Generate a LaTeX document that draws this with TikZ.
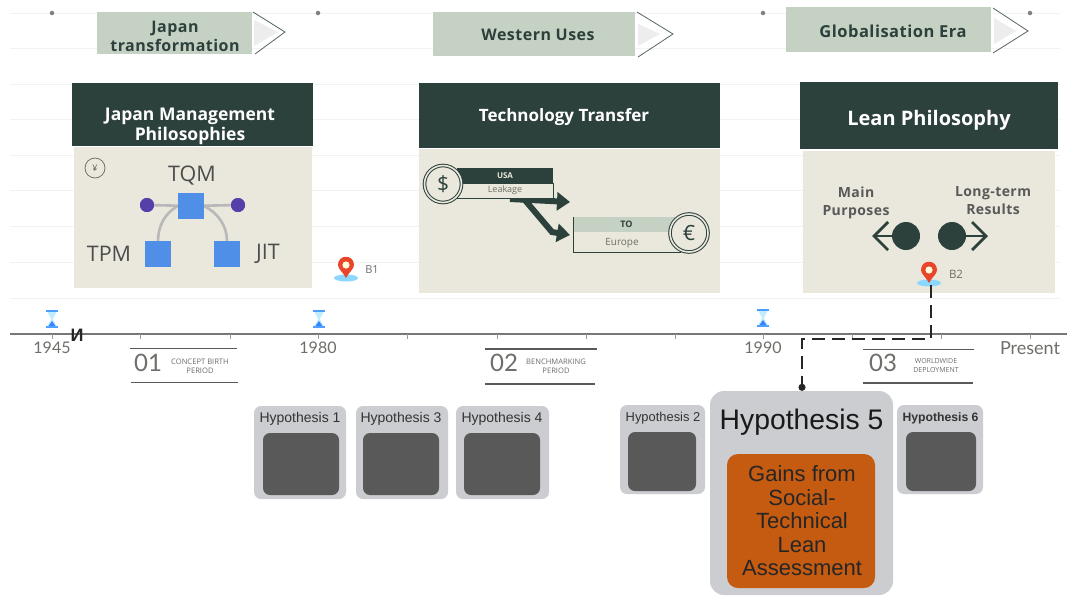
\documentclass[tikz,border=0pt]{standalone}
\usepackage{fontspec}
\setmainfont{Open Sans}
\newfontfamily\arialf{Liberation Sans}
\newfontfamily\latof{Lato}
\newfontfamily\openspaced[LetterSpace=3]{Open Sans}
\usetikzlibrary{arrows.meta,calc}
\definecolor{darkgreen}{HTML}{2C403C}
\definecolor{sage}{HTML}{C5D1C3}
\definecolor{cream}{HTML}{EAE8DC}
\definecolor{bluesq}{HTML}{4F8FE8}
\definecolor{purp}{HTML}{553FA8}
\definecolor{graycard}{HTML}{CBCDD1}
\definecolor{grayin}{HTML}{595959}
\definecolor{orng}{HTML}{C55A11}
\definecolor{axisgray}{HTML}{777777}
\definecolor{txtgray}{HTML}{6E6E6A}
\definecolor{pinred}{HTML}{E8452A}
\newcommand{\fs}[1]{\fontsize{#1}{#1}\selectfont}
\newcommand{\fsl}[2]{\fontsize{#1}{#2}\selectfont}
\tikzset{
  faint/.style={draw=black!5,line width=.8pt},
  banner/.style={fill=sage,draw=none,inner sep=0pt},
  bannertxt/.style={inner sep=0pt,align=center,text=darkgreen,font=\openspaced\fsl{16}{19.5}\bfseries},
  chevfill/.style={fill=black!7,draw=none},
  chevline/.style={draw=darkgreen!80,line width=.8pt,line join=miter},
  header/.style={fill=darkgreen,draw=none,inner sep=0pt},
  headtxt/.style={inner sep=0pt,align=center,text=white,font=\fsl{17}{20.5}\bfseries},
  cardbody/.style={fill=cream,draw=none,inner sep=0pt},
  sq/.style={fill=bluesq,draw=none,minimum size=26pt,inner sep=0pt},
  purpdot/.style={fill=purp,draw=none,circle,minimum size=14pt,inner sep=0pt},
  curve/.style={draw=black!28,line width=2.6pt},
  lab/.style={text=black!70,font=\fs{21.5},inner sep=0pt},
  coin/.style={circle,fill=cream,draw=darkgreen,line width=1pt,double=cream,double distance=1.6pt,inner sep=0pt,text=darkgreen},
  fatarrow/.style={draw=darkgreen,line width=6pt,line join=miter,-{Triangle[width=18pt,length=13pt]}},
  bigdot/.style={circle,fill=darkgreen,draw=none,inner sep=0pt,minimum size=28pt},
  chevarrow/.style={draw=darkgreen,line width=2.8pt},
  boldlab/.style={text=black!65,font=\openspaced\fsl{14}{18.5}\bfseries,align=center,inner sep=0pt},
  yearlab/.style={text=txtgray,font=\latof\fs{16},inner sep=0pt},
  numlab/.style={text=txtgray,font=\latof\fs{24},inner sep=0pt},
  tinylab/.style={text=txtgray,font=\fsl{7.6}{9},align=center,inner sep=0pt},
  perline/.style={draw=black!65,line width=1.2pt},
  smalldot/.style={circle,fill=black!50,draw=none,minimum size=4.5pt,inner sep=0pt},
  hypcard/.style={fill=graycard,draw=none,rounded corners=7pt,inner sep=0pt},
  hypin/.style={fill=grayin,draw=none,rounded corners=7pt,inner sep=0pt},
  hyplab/.style={text=black!80,font=\arialf\fs{14},inner sep=0pt},
  pics/hourglass/.style={code={
    \fill[blue!55!cyan!70] (-6,-9) rectangle (6,-7);
    \fill[blue!55!cyan!70] (-6,7) rectangle (6,9);
    \fill[blue!30!cyan!25] (-4.5,-7) -- (4.5,-7) -- (0.8,0) -- (4.5,7) -- (-4.5,7) -- (-0.8,0) -- cycle;
    \fill[blue!60!cyan!80] (-3.5,7) -- (3.5,7) -- (0,2) -- cycle;
  }},
  pics/mappin/.style={code={
    \fill[blue!35!cyan!45] (0,10) ellipse (12 and 3.5);
    \fill[pinred] (0,10) .. controls (-3,4) and (-8,1) .. (-8,-3) .. controls (-8,-14) and (8,-14) .. (8,-3) .. controls (8,1) and (3,4) .. (0,10) -- cycle;
    \fill[white!85!yellow] (0,-3) circle (3.6);
  }}
}
\begin{document}
\begin{tikzpicture}[x=1pt,y=-1pt]
\useasboundingbox (0,0) rectangle (1067,595);
\fill[white] (0,0) rectangle (1067,595);
% faint horizontal rules
\foreach \yy in {13,48,84,119,155,190,226,262,298}
  \draw[faint] (10,\yy) -- (1060,\yy);
% top dots
\node[smalldot] (d1) at (52,13) {};
\node[smalldot] (d2) at (318,13) {};
\node[smalldot] (d3) at (763,13) {};
\node[smalldot] (d4) at (1030,13) {};
% banners
\node[banner,minimum width=155pt,minimum height=42pt] (b1) at (174.5,33) {};
\node[bannertxt] (b1t) at (175,36.5) {Japan\\transformation};
\fill[chevfill] (254,20) -- (278,32) -- (254,46) -- cycle;
\draw[chevline] (253,12) -- (285,32) -- (255,54);
\node[banner,minimum width=202pt,minimum height=44pt] (b2) at (534,34) {};
\node[bannertxt] (b2t) at (538,35) {Western Uses};
\fill[chevfill] (638,24) -- (660,34) -- (638,46) -- cycle;
\draw[chevline] (637,12) -- (673,34) -- (638,57);
\node[banner,minimum width=205pt,minimum height=45pt] (b3) at (888.5,29.5) {};
\node[bannertxt,font=\openspaced\fs{16.5}\bfseries] (b3t) at (893,31) {Globalisation Era};
\fill[chevfill] (994,18) -- (1016,31) -- (994,44) -- cycle;
\draw[chevline] (993,8) -- (1028,31) -- (993,53);
% card 1
\node[cardbody,minimum width=238pt,minimum height=141pt] (c1) at (193,217.5) {};
\node[header,minimum width=241pt,minimum height=63pt] (h1) at (192.5,114.5) {};
\node[headtxt,font=\fsl{17.5}{20.5}\bfseries] (h1t) at (190,126.5) {Japan Management\\Philosophies};
\node[circle,draw=black!60,line width=.7pt,minimum size=20pt,inner sep=0pt,text=black!65,font=\fs{9}] (yen) at (95,168) {¥};
\node[lab] (tqm) at (192,176) {TQM};
\node[purpdot] (pl) at (147,205) {};
\node[purpdot] (pr) at (238,205) {};
\node[sq] (sql) at (158,254) {};
\node[sq] (sqr) at (227,254) {};
\node[sq] (sqt) at (191,206) {};
\draw[curve] (pl) -- (sqt);
\draw[curve] (pr) -- (sqt);
\draw[curve] (sql.north) .. controls (158,226) and (165,213) .. (sqt.west);
\draw[curve] (sqr.north) .. controls (227,226) and (218,213) .. (sqt.east);
\node[purpdot] at (147,205) {};
\node[purpdot] at (238,205) {};
\node[sq] at (191,206) {};
\node[lab] (tpm) at (109,254) {TPM};
\node[lab] (jit) at (268,254) {JIT};
% pin B1
\pic at (346,268) {mappin};
\node[text=txtgray,font=\fs{11},inner sep=0pt] (lb1) at (372,270) {B1};
% card 2
\node[cardbody,minimum width=301pt,minimum height=144pt] (c2) at (569.5,221) {};
\node[header,minimum width=301pt,minimum height=65pt] (h2) at (569.5,115.5) {};
\node[headtxt] (h2t) at (564,117) {Technology Transfer};
\draw[fatarrow] (510,199) -- (570,202);
\draw[fatarrow] (524,199) -- (552,232) -- (570,235);
\node[fill=cream,draw=darkgreen,line width=1pt,minimum width=96pt,minimum height=15pt,inner sep=0pt,text=txtgray,font=\fs{9}] (leak) at (505,190.5) {Leakage};
\node[fill=darkgreen,minimum width=96pt,minimum height=15pt,inner sep=0pt,text=cream,font=\fs{8}\bfseries] (usa) at (505,175.5) {USA};
\node[coin,minimum size=37pt,font=\fs{21}] (usd) at (443,184) {\$};
\node[fill=cream,draw=darkgreen,line width=1pt,minimum width=107pt,minimum height=35pt,inner sep=0pt] (tobox) at (626.5,234.5) {};
\node[fill=sage,minimum width=106pt,minimum height=15pt,inner sep=0pt,text=darkgreen,font=\fs{9}\bfseries] (to) at (626.5,224.5) {TO};
\node[text=txtgray,font=\fs{10},inner sep=0pt] (eur) at (622,243) {Europe};
\node[coin,minimum size=38pt,font=\fs{21}] (euro) at (689,233) {€};
% card 3
\node[cardbody,minimum width=252pt,minimum height=142pt] (c3) at (929,222) {};
\node[header,minimum width=258pt,minimum height=67pt] (h3) at (929,115.5) {};
\node[headtxt,font=\fs{20}\bfseries] (h3t) at (929,120) {Lean Philosophy};
\node[boldlab] (mp) at (856,203) {Main\\Purposes};
\node[boldlab] (lt) at (993,200.5) {Long-term\\Results};
\node[bigdot] (cl) at (906,236) {};
\node[bigdot] (cr) at (952,236) {};
\draw[chevarrow] (cl.center) -- (874,236);
\draw[chevarrow] (888,222) -- (874,236) -- (888,250);
\draw[chevarrow] (cr.center) -- (986,236);
\draw[chevarrow] (972,222) -- (986,236) -- (972,250);
\node[inner sep=0pt,minimum size=2pt] (pinb2) at (931,284) {};
\pic at (929,273) {mappin};
\node[text=txtgray,font=\fs{11.5},inner sep=0pt] (lb2) at (956,274) {B2};
% timeline
\node[inner sep=0pt,minimum size=0pt] (ax0) at (10,334) {};
\node[inner sep=0pt,minimum size=0pt] (ax1) at (1067,334) {};
\draw[draw=axisgray,line width=1.3pt] (ax0) -- (ax1);
\foreach \xx in {52,140,230,318,407,497,586,675,763,852,941,1030}
  \draw[draw=black!40,line width=.6pt] (\xx,334) -- (\xx,339);
\node[font=\arialf\bfseries\fs{18},text=black!85,inner sep=0pt] (brk) at (77,335) {И};
\pic at (52,319) {hourglass};
\pic at (319,319) {hourglass};
\pic at (763,318) {hourglass};
\node[yearlab] (y1) at (52,348) {1945};
\node[yearlab] (y2) at (318,348) {1980};
\node[yearlab] (y3) at (763,348) {1990};
\node[yearlab,font=\latof\fs{18}] (y4) at (1030,348) {Present};
% periods
\draw[perline] (130,348.5) -- (237,348.5);
\draw[perline] (131,382.5) -- (238,382.5);
\node[numlab] (n1) at (148,362.5) {01};
\node[tinylab] (t1) at (200,366.5) {CONCEPT BIRTH\\PERIOD};
\draw[perline] (485,349) -- (597,349);
\draw[perline] (485,384) -- (595,384);
\node[numlab] (n2) at (504,362.5) {02};
\node[tinylab] (t2) at (556,366.5) {BENCHMARKING\\PERIOD};
\draw[perline] (863,349.5) -- (974,349.5);
\draw[perline] (863,383) -- (973,383);
\node[numlab] (n3) at (883,362.5) {03};
\node[tinylab,font=\fsl{7}{9.5}] (t3) at (936,365.5) {WORLDWIDE\\DEPLOYMENT};
% hypotheses
\node[hypcard,minimum width=92pt,minimum height=93pt] (h1c) at (300,452.5) {};
\node[hypin,minimum width=76pt,minimum height=62pt] (h1i) at (301,464) {};
\node[hyplab] (h1l) at (300,419) {Hypothesis 1};
\node[hypcard,minimum width=92pt,minimum height=93pt] (h3c) at (402,452.5) {};
\node[hypin,minimum width=76pt,minimum height=62pt] (h3i) at (401,464) {};
\node[hyplab] (h3l) at (401,419) {Hypothesis 3};
\node[hypcard,minimum width=93pt,minimum height=93pt] (h4c) at (502.5,452.5) {};
\node[hypin,minimum width=76pt,minimum height=62pt] (h4i) at (502,464) {};
\node[hyplab] (h4l) at (502,419) {Hypothesis 4};
\node[hypcard,minimum width=85pt,minimum height=89pt] (h2c) at (662.5,449.5) {};
\node[hypin,minimum width=68pt,minimum height=59pt] (h2i) at (662,461.5) {};
\node[hyplab,font=\arialf\fs{12.9}] (h2l) at (663,418.5) {Hypothesis 2};
\node[hypcard,rounded corners=14pt,minimum width=183pt,minimum height=204pt] (h5c) at (801.5,493) {};
\node[hypin,fill=orng,rounded corners=11pt,minimum width=148pt,minimum height=134pt] (h5i) at (801,521) {};
\node[text=black!90,font=\arialf\fs{28.3},inner sep=0pt] (h5t) at (801.5,422.5) {Hypothesis 5};
\node[text=black!85,font=\arialf\fsl{22}{23.5},align=center,inner sep=0pt] (h5b) at (802,521) {Gains from\\Social-\\Technical\\Lean\\Assessment};
\node[hypcard,minimum width=86pt,minimum height=89pt] (h6c) at (940,449.5) {};
\node[hypin,minimum width=70pt,minimum height=59pt] (h6i) at (941,461.5) {};
\node[hyplab,font=\arialf\bfseries\fs{12.2}] (h6l) at (940.5,418.5) {Hypothesis 6};
% dashed connector
\coordinate (elbow) at (802,339);
\draw[draw=black!85,line width=2pt,dash pattern=on 13pt off 7pt,-{Circle[length=7pt,width=7pt]}] (pinb2.south) |- (elbow) -- (h5c.north -| elbow);
\end{tikzpicture}
\end{document}
